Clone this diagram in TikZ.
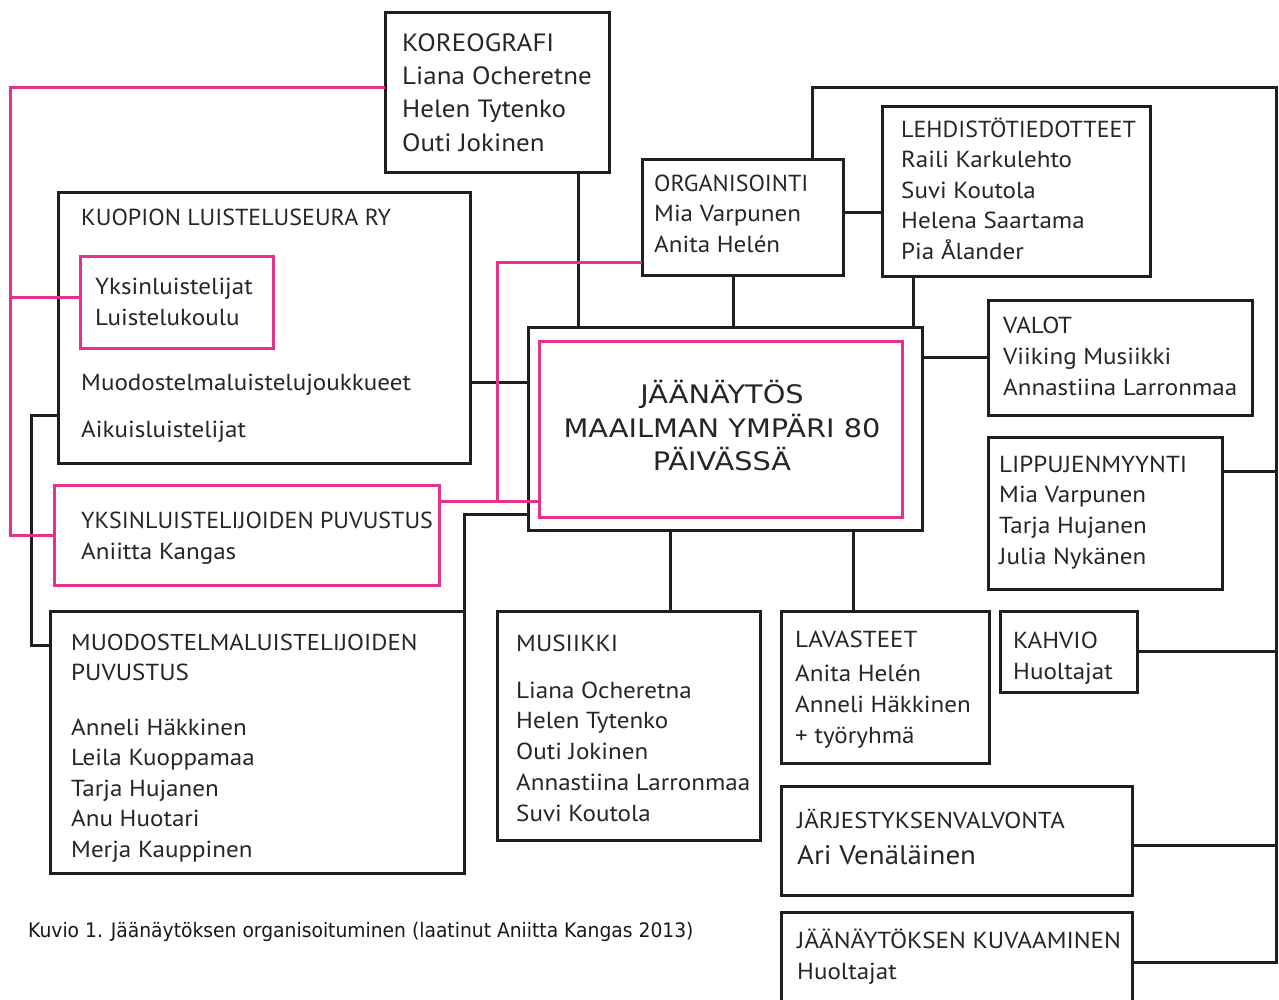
\documentclass[tikz,border=0pt]{standalone}
\usepackage{fontspec}
\setmainfont{PT Sans}[FakeStretch=1.08]
\newfontfamily\capsfont{PT Sans}[FakeStretch=1.035]
\newfontfamily\capfont{DejaVu Sans}
\newfontfamily\titlefont{DejaVu Sans}[FakeStretch=1.13]
\definecolor{pinkline}{RGB}{228,50,140}
\begin{document}
\begin{tikzpicture}[x=1pt,y=-1pt,
  blk/.style={draw=black!88,line width=3pt},
  pnk/.style={draw=pinkline,line width=3pt},
  conn/.style={draw=black!88,line width=3pt},
  pconn/.style={draw=pinkline,line width=3pt},
  txt/.style={anchor=base west,inner sep=0pt,font=\fontsize{23.2}{28}\selectfont,text=black!85},
  ctxt/.style={anchor=base west,inner sep=0pt,font=\capsfont\fontsize{23.2}{28}\selectfont,text=black!85},
  bigtxt/.style={anchor=base west,inner sep=0pt,font=\fontsize{25}{30}\selectfont,text=black!85},
  mtxt/.style={anchor=base,inner sep=0pt,font=\titlefont\fontsize{25.5}{30}\selectfont,text=black!85},
  line join=miter]
\useasboundingbox (0,0) rectangle (1279,999);
\fill[white] (0,0) rectangle (1279,999);
\clip (0,0) rectangle (1279,999);
% box macro
\newcommand\mkbox[6]{\node[#1,minimum width=#5-#3,minimum height=#6-#4,anchor=north west,inner sep=0pt,outer sep=0pt] (#2) at (#3,#4) {};}
\mkbox{blk}{kor}{385}{12}{609}{172}
\mkbox{blk}{kuo}{58}{192}{470}{463}
\mkbox{pnk}{yksa}{80}{256}{273}{348}
\mkbox{blk}{main}{528}{327}{922}{530}
\mkbox{pnk}{mainin}{539}{341}{902}{517}
\mkbox{pnk}{yksb}{54}{485}{439}{585}
\mkbox{blk}{muo}{50}{611}{464}{873}
\mkbox{blk}{org}{642}{159}{843}{275}
\mkbox{blk}{leh}{882}{106}{1150}{276}
\mkbox{blk}{val}{988}{300}{1252}{415}
\mkbox{blk}{lip}{988}{437}{1222}{589}
\mkbox{blk}{mus}{497}{611}{760}{840}
\mkbox{blk}{lav}{781}{611}{989}{763}
\mkbox{blk}{kah}{1000}{611}{1137}{692}
\mkbox{blk}{jar}{781}{786}{1132}{895}
\mkbox{blk}{kuv}{781}{912}{1132}{1012}
% black connectors
\coordinate (busTL) at (812,87);
\coordinate (busTR) at (1276,87);
\coordinate (busBR) at (1276,962);
\draw[conn] (kor.south -| 578,0) -- (main.north -| 578,0);
\draw[conn] (org.south -| 733,0) -- (main.north -| 733,0);
\draw[conn] (leh.south -| 913,0) -- (main.north -| 913,0);
\draw[conn] (org.east |- 0,212) -- (leh.west |- 0,212);
\draw[conn] (org.north -| busTL) -- (busTL) -- (busTR) -- (busBR) -- (kuv.east |- busBR);
\draw[conn] (lip.east |- 0,471) -- (busTR |- 0,471);
\draw[conn] (kah.east) -- (kah.east -| busTR);
\draw[conn] (jar.east |- 0,845) -- (busTR |- 0,845);
\draw[conn] (main.west |- 0,382) -- (kuo.east |- 0,382);
\draw[conn] (main.east |- val.west) -- (val.west);
\draw[conn] (main.south -| 670,0) -- (mus.north -| 670,0);
\draw[conn] (main.south -| 853,0) -- (lav.north -| 853,0);
\coordinate (kl) at (31,415);
\draw[conn] (kuo.west |- kl) -- (kl) -- (31,645) -- (muo.west |- 0,645);
\coordinate (mr) at (464,514);
\draw[conn] (main.west |- mr) -- (mr) -- (muo.north east);
% pink connectors
\coordinate (pl) at (10,87);
\draw[pconn] (kor.west |- pl) -- (pl) -- (pl |- yksb.west) -- (yksb.west);
\draw[pconn] (pl |- 0,297) -- (yksa.west |- 0,297);
\coordinate (po) at (497,262);
\draw[pconn] (org.west |- po) -- (po) -- (497,501);
\draw[pconn] (yksb.east |- 0,501) -- (mainin.west |- 0,501);
% texts
\foreach \t [count=\i] in {KOREOGRAFI,Liana Ocheretne,Helen Tytenko,Outi Jokinen}
  \node[bigtxt] (korT\i) at (402,{51+33.4*(\i-1)}) {\t};
\node[ctxt] (kuoT1) at (81,225) {KUOPION LUISTELUSEURA RY};
\node[txt] (yksaT1) at (95,294) {Yksinluistelijat};
\node[txt] (yksaT2) at (95,325) {Luistelukoulu};
\node[txt] (kuoT2) at (81,390) {Muodostelmaluistelujoukkueet};
\node[txt] (kuoT3) at (81,437) {Aikuisluistelijat};
\node[mtxt] (mainT1) at (722,403) {JÄÄNÄYTÖS};
\node[mtxt] (mainT2) at (722,437) {MAAILMAN YMPÄRI 80};
\node[mtxt] (mainT3) at (722,470) {PÄIVÄSSÄ};
\node[ctxt] (yksbT1) at (81,528) {YKSINLUISTELIJOIDEN PUVUSTUS};
\node[txt] (yksbT2) at (81,559) {Aniitta Kangas};
\node[txt,font=\fontsize{22.9}{28}\selectfont] (muoT1) at (71,650) {MUODOSTELMALUISTELIJOIDEN};
\node[txt] (muoT2) at (71,680) {PUVUSTUS};
\foreach \t [count=\i] in {Anneli Häkkinen,Leila Kuoppamaa,Tarja Hujanen,Anu Huotari,Merja Kauppinen}
  \node[txt] (muoN\i) at (71,{735+30.5*(\i-1)}) {\t};
\node[ctxt] (orgT1) at (654,191) {ORGANISOINTI};
\foreach \t [count=\i] in {Mia Varpunen,Anita Helén}
  \node[txt] (orgT\i) at (654,{221.5+30.5*(\i-1)}) {\t};
\node[ctxt] (lehT0) at (901,137) {LEHDISTÖTIEDOTTEET};
\foreach \t [count=\i] in {Raili Karkulehto,Suvi Koutola,Helena Saartama,Pia Ålander}
  \node[txt] (lehT\i) at (901,{167.5+30.5*(\i-1)}) {\t};
\foreach \t [count=\i] in {VALOT,Viiking Musiikki,Annastiina Larronmaa}
  \node[txt] (valT\i) at (1003,{333+31*(\i-1)}) {\t};
\foreach \t [count=\i] in {LIPPUJENMYYNTI,Mia Varpunen,Tarja Hujanen,Julia Nykänen}
  \node[txt] (lipT\i) at (999,{472+30.8*(\i-1)}) {\t};
\node[txt] (musT1) at (516,651) {MUSIIKKI};
\foreach \t [count=\i] in {Liana Ocheretna,Helen Tytenko,Outi Jokinen,Annastiina Larronmaa,Suvi Koutola}
  \node[txt] (musN\i) at (516,{698+30.8*(\i-1)}) {\t};
\node[txt] (lavT1) at (795,647) {LAVASTEET};
\foreach \t [count=\i] in {Anita Helén,Anneli Häkkinen,+ työryhmä}
  \node[txt] (lavN\i) at (795,{681+31*(\i-1)}) {\t};
\node[txt] (kahT1) at (1013,648) {KAHVIO};
\node[txt] (kahT2) at (1013,679) {Huoltajat};
\node[txt,font=\fontsize{23}{26}\selectfont] (jarT1) at (797,828) {JÄRJESTYKSENVALVONTA};
\node[txt,font=\fontsize{26.8}{30}\selectfont] (jarT2) at (797,864) {Ari Venäläinen};
\node[txt] (kuvT1) at (797,948) {JÄÄNÄYTÖKSEN KUVAAMINEN};
\node[txt] (kuvT2) at (797,979) {Huoltajat};
\node[anchor=base west,inner sep=0pt,text=black!90] (cap) at (28,937) {\scalebox{0.936}[1]{\capfont\fontsize{20}{24}\selectfont Kuvio 1. Jäänäytöksen organisoituminen (laatinut Aniitta Kangas 2013)}};
\end{tikzpicture}
\end{document}
